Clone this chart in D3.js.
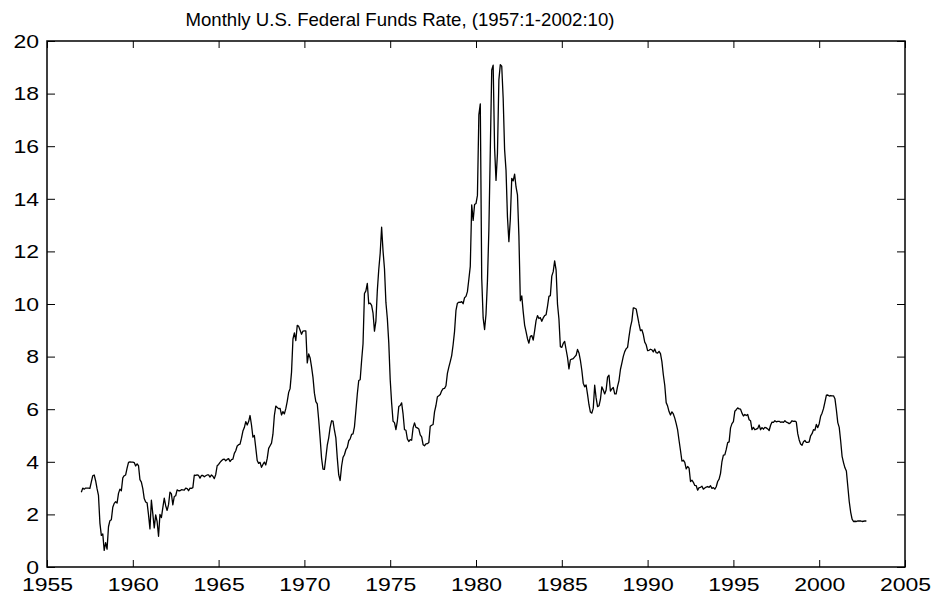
<!DOCTYPE html>
<html>
<head>
<meta charset="utf-8">
<script src="https://cdn.jsdelivr.net/npm/d3@7"></script>
<style>
  body { margin: 0; background: #fff; }
  text { font-family: "Liberation Sans", Arial, sans-serif; fill: #000; }
</style>
</head>
<body>
<div id="chart"></div>
<script>
const title = "Monthly U.S. Federal Funds Rate, (1957:1-2002:10)";
const startYear = 1957;

// monthly effective rate, one row per year (1957:1 .. 2002:10)
const fedFundsRate = [
  2.84, 3.00, 2.96, 3.00, 3.00, 3.00, 2.99, 3.24, 3.47, 3.50, 3.28, 2.98,
  2.72, 1.67, 1.20, 1.26, 0.63, 0.93, 0.68, 1.53, 1.76, 1.80, 2.27, 2.42,
  2.48, 2.43, 2.80, 2.96, 2.90, 3.39, 3.47, 3.50, 3.76, 3.98, 4.00, 3.99,
  3.99, 3.97, 3.84, 3.92, 3.85, 3.32, 3.23, 2.98, 2.60, 2.47, 2.44, 1.98,
  1.45, 2.54, 2.02, 1.49, 1.98, 1.73, 1.17, 2.00, 1.88, 2.26, 2.62, 2.33,
  2.15, 2.37, 2.85, 2.78, 2.36, 2.68, 2.71, 2.93, 2.90, 2.90, 2.94, 2.93,
  2.92, 3.00, 2.98, 2.90, 3.00, 2.99, 3.02, 3.49, 3.48, 3.50, 3.48, 3.38,
  3.48, 3.48, 3.43, 3.47, 3.50, 3.50, 3.42, 3.50, 3.45, 3.36, 3.52, 3.85,
  3.90, 3.98, 4.04, 4.09, 4.10, 4.04, 4.09, 4.12, 4.01, 4.08, 4.10, 4.32,
  4.42, 4.60, 4.65, 4.67, 4.90, 5.17, 5.30, 5.53, 5.40, 5.53, 5.76, 5.40,
  4.94, 5.00, 4.53, 4.05, 3.94, 3.98, 3.79, 3.90, 3.99, 3.88, 4.13, 4.51,
  4.61, 4.71, 5.05, 5.76, 6.12, 6.07, 6.02, 6.03, 5.78, 5.91, 5.82, 6.02,
  6.30, 6.64, 6.79, 7.41, 8.67, 8.90, 8.61, 9.19, 9.15, 9.00, 8.85, 8.97,
  8.98, 8.98, 7.76, 8.10, 7.95, 7.61, 7.21, 6.61, 6.29, 6.20, 5.60, 4.90,
  4.14, 3.72, 3.71, 4.16, 4.63, 4.91, 5.31, 5.56, 5.55, 5.20, 4.91, 4.14,
  3.50, 3.29, 3.83, 4.17, 4.27, 4.46, 4.55, 4.80, 4.87, 5.04, 5.06, 5.33,
  5.94, 6.58, 7.09, 7.12, 7.84, 8.49, 10.40, 10.50, 10.78, 10.01, 10.03, 9.95,
  9.65, 8.97, 9.35, 10.51, 11.31, 11.93, 12.92, 12.01, 11.34, 10.06, 9.45, 8.53,
  7.13, 6.24, 5.54, 5.49, 5.22, 5.55, 6.10, 6.14, 6.24, 5.82, 5.22, 5.20,
  4.87, 4.77, 4.84, 4.82, 5.29, 5.48, 5.31, 5.29, 5.25, 5.02, 4.95, 4.65,
  4.61, 4.68, 4.69, 4.73, 5.35, 5.39, 5.42, 5.90, 6.14, 6.47, 6.51, 6.56,
  6.70, 6.78, 6.79, 6.89, 7.36, 7.60, 7.81, 8.04, 8.45, 8.96, 9.76, 10.03,
  10.07, 10.06, 10.09, 10.01, 10.24, 10.29, 10.47, 10.94, 11.43, 13.77, 13.18, 13.78,
  13.82, 14.13, 17.19, 17.61, 10.98, 9.47, 9.03, 9.61, 10.87, 12.81, 15.85, 18.90,
  19.08, 15.93, 14.70, 15.72, 18.52, 19.10, 19.04, 17.82, 15.87, 15.08, 13.31, 12.37,
  13.22, 14.78, 14.68, 14.94, 14.45, 14.15, 12.59, 10.12, 10.31, 9.71, 9.20, 8.95,
  8.68, 8.51, 8.77, 8.80, 8.63, 8.98, 9.37, 9.56, 9.45, 9.48, 9.34, 9.47,
  9.56, 9.59, 9.91, 10.29, 10.32, 11.06, 11.23, 11.64, 11.30, 9.99, 9.43, 8.38,
  8.35, 8.50, 8.58, 8.27, 7.97, 7.53, 7.88, 7.90, 7.92, 7.99, 8.05, 8.27,
  8.14, 7.86, 7.48, 6.99, 6.85, 6.92, 6.56, 6.17, 5.89, 5.85, 6.04, 6.91,
  6.43, 6.10, 6.13, 6.37, 6.85, 6.73, 6.58, 6.73, 7.22, 7.29, 6.69, 6.77,
  6.83, 6.58, 6.58, 6.87, 7.09, 7.51, 7.75, 8.01, 8.19, 8.30, 8.35, 8.76,
  9.12, 9.36, 9.85, 9.84, 9.81, 9.53, 9.24, 8.99, 9.02, 8.84, 8.55, 8.45,
  8.23, 8.24, 8.28, 8.26, 8.18, 8.29, 8.15, 8.13, 8.20, 8.11, 7.81, 7.31,
  6.91, 6.25, 6.12, 5.91, 5.78, 5.90, 5.82, 5.66, 5.45, 5.21, 4.81, 4.43,
  4.03, 4.06, 3.98, 3.73, 3.82, 3.76, 3.25, 3.30, 3.22, 3.10, 3.09, 2.92,
  3.02, 3.03, 3.07, 2.96, 3.00, 3.04, 3.06, 3.03, 3.09, 2.99, 3.02, 2.96,
  3.05, 3.25, 3.34, 3.56, 4.01, 4.25, 4.26, 4.47, 4.73, 4.76, 5.29, 5.45,
  5.53, 5.92, 5.98, 6.05, 6.01, 6.00, 5.85, 5.74, 5.80, 5.76, 5.80, 5.60,
  5.56, 5.22, 5.31, 5.22, 5.24, 5.27, 5.40, 5.22, 5.30, 5.24, 5.31, 5.29,
  5.25, 5.19, 5.39, 5.51, 5.50, 5.56, 5.52, 5.54, 5.54, 5.50, 5.52, 5.50,
  5.56, 5.51, 5.49, 5.45, 5.49, 5.56, 5.54, 5.55, 5.51, 5.07, 4.83, 4.68,
  4.63, 4.76, 4.81, 4.74, 4.74, 4.76, 4.99, 5.07, 5.22, 5.20, 5.42, 5.30,
  5.45, 5.73, 5.85, 6.02, 6.27, 6.53, 6.54, 6.50, 6.52, 6.51, 6.51, 6.40,
  5.98, 5.49, 5.31, 4.80, 4.21, 3.97, 3.77, 3.65, 3.07, 2.49, 2.09, 1.82,
  1.73, 1.74, 1.73, 1.75, 1.75, 1.75, 1.73, 1.74, 1.75, 1.75
];

const xTicks = [1955, 1960, 1965, 1970, 1975, 1980, 1985, 1990, 1995, 2000, 2005];
const yTicks = [0, 2, 4, 6, 8, 10, 12, 14, 16, 18, 20];

const width = 936, height = 598;
const margin = {top: 41, right: 31, bottom: 31, left: 47};
const stretch = 1.3; // tick labels in the original are drawn wide

const svg = d3.select("#chart")
    .append("svg")
    .attr("width", width)
    .attr("height", height);

const x = d3.scaleLinear()
    .domain([1955, 2005])
    .range([margin.left, width - margin.right]);

const y = d3.scaleLinear()
    .domain([0, 20])
    .range([height - margin.bottom, margin.top]);

const series = fedFundsRate.map(function(v, i) {
    return {t: startYear + i / 12, v: v};
});

// bottom axis, ticks pointing in
const gx = svg.append("g")
    .attr("transform", "translate(0," + y(0) + ")")
    .call(d3.axisBottom(x).tickValues(xTicks).tickFormat(d3.format("d"))
        .tickSizeInner(-7).tickSizeOuter(0).tickPadding(0));
gx.selectAll("text")
    .attr("y", 24)
    .attr("dy", 0)
    .style("font-size", "17.7px")
    .attr("transform", "scale(" + stretch + ",1)");

// top mirror ticks
svg.append("g")
    .attr("transform", "translate(0," + y(20) + ")")
    .call(d3.axisTop(x).tickValues(xTicks).tickFormat("").tickSizeInner(-7).tickSizeOuter(0));

// left axis
const gy = svg.append("g")
    .attr("transform", "translate(" + x(1955) + ",0)")
    .call(d3.axisLeft(y).tickValues(yTicks).tickSizeInner(-8).tickSizeOuter(0).tickPadding(0));
gy.selectAll("text")
    .attr("x", -8 / stretch)
    .attr("dy", "0.36em")
    .style("font-size", "17.7px")
    .attr("transform", "scale(" + stretch + ",1)");

// right mirror ticks
svg.append("g")
    .attr("transform", "translate(" + x(2005) + ",0)")
    .call(d3.axisRight(y).tickValues(yTicks).tickFormat("").tickSizeInner(-8).tickSizeOuter(0));

svg.selectAll(".domain").remove();
svg.selectAll(".tick line").attr("stroke", "#000").attr("stroke-width", 1);

// box
svg.append("rect")
    .attr("x", x(1955))
    .attr("y", y(20))
    .attr("width", x(2005) - x(1955))
    .attr("height", y(0) - y(20))
    .attr("fill", "none")
    .attr("stroke", "#000")
    .attr("stroke-width", 1.5);

const line = d3.line()
    .x(function(d) { return x(d.t); })
    .y(function(d) { return y(d.v); });

svg.append("path")
    .datum(series)
    .attr("d", line)
    .attr("fill", "none")
    .attr("stroke", "#000")
    .attr("stroke-width", 1.3)
    .attr("stroke-linejoin", "round");

svg.append("text")
    .attr("x", 400)
    .attr("y", 26)
    .attr("text-anchor", "middle")
    .style("font-size", "18.6px")
    .text(title);
</script>
</body>
</html>
